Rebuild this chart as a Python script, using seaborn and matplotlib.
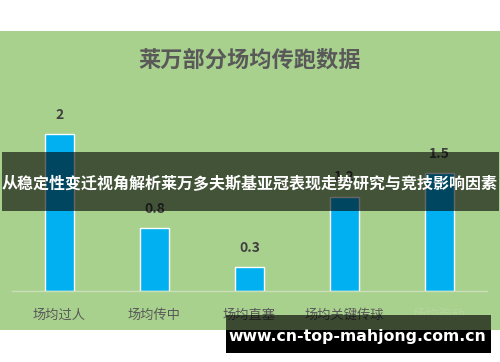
import matplotlib
matplotlib.use("Agg")
import matplotlib.pyplot as plt
from matplotlib.patches import Rectangle
import seaborn as sns
import pandas as pd

categories = ["场均过人", "场均传中", "场均直塞", "场均关键传球", "场均跑动"]
values = [2, 0.8, 0.3, 1.2, 1.5]
title = "莱万部分场均传跑数据"
banner = "从稳定性变迁视角解析莱万多夫斯基亚冠表现走势研究与竞技影响因素"
watermark = "www.cn-top-mahjong.com.cn"

sns.set_theme(style="white")
plt.rcParams['font.family'] = ['Noto Sans CJK SC', 'DejaVu Sans']

W, H = 500, 362
fig = plt.figure(figsize=(W / 100, H / 100), dpi=100)
fig.patch.set_facecolor("white")

def fx(px):
    return px / W

def fy(py):
    return 1 - py / H

# green panel
fig.patches.append(Rectangle((0, fy(329.5)), 1, fy(31) - fy(329.5), transform=fig.transFigure,
                             facecolor="#a9d18e", edgecolor="none", zorder=-2))

base = 290.7
unit = 78.3
ymax = 2.2
ax = fig.add_axes([fx(12), fy(base), fx(475), (ymax * unit) / H])
ax.set_facecolor("none")

df = pd.DataFrame({"cat": categories, "val": values})
sns.barplot(data=df, x="cat", y="val", color="#00b0f0", width=0.31, saturation=1, ax=ax)
ax.set_xlim(-0.5, 4.5)
ax.set_ylim(0, ymax)
for s in ["top", "left", "right"]:
    ax.spines[s].set_visible(False)
ax.spines["bottom"].set_color("#c9dfb9")
ax.spines["bottom"].set_linewidth(1)
ax.set_xlabel("")
ax.set_ylabel("")
ax.set_yticks([])
ax.tick_params(axis="x", length=0, pad=13, labelsize=9.5, labelcolor="#595959")
# last category label is smudged out in the reference
ax.get_xticklabels()[-1].set_color("#b3d69b")
ax.bar_label(ax.containers[0], labels=[f"{v:g}" for v in values], padding=9,
             fontsize=10, fontweight="bold", color="#404040")

fig.text(0.5, fy(60), title, ha="center", va="center", fontsize=16, fontweight="bold", color="#595959")

# banner overlay
fig.patches.append(Rectangle((fx(2), fy(211)), fx(497), fy(152) - fy(211), transform=fig.transFigure,
                             facecolor="black", alpha=0.6, edgecolor="none", zorder=5))
fig.text(0.5, fy(184), banner, ha="center", va="center", fontsize=11.5, fontweight="bold",
         color="white", zorder=6)

# watermark box (translucent over the green, solid below)
fig.patches.append(Rectangle((fx(226), fy(329.5)), fx(265), fy(315) - fy(329.5), transform=fig.transFigure,
                             facecolor="black", alpha=0.65, edgecolor="none", zorder=7))
fig.patches.append(Rectangle((fx(226), fy(353)), fx(265), fy(329.5) - fy(353), transform=fig.transFigure,
                             facecolor="black", edgecolor="none", zorder=7))
fig.text(fx(357.5), fy(336), watermark, ha="center", va="center", fontsize=11.3, fontweight="bold",
         color="white", family=["DejaVu Sans"], zorder=8)

fig.savefig("out.png", dpi=100)
